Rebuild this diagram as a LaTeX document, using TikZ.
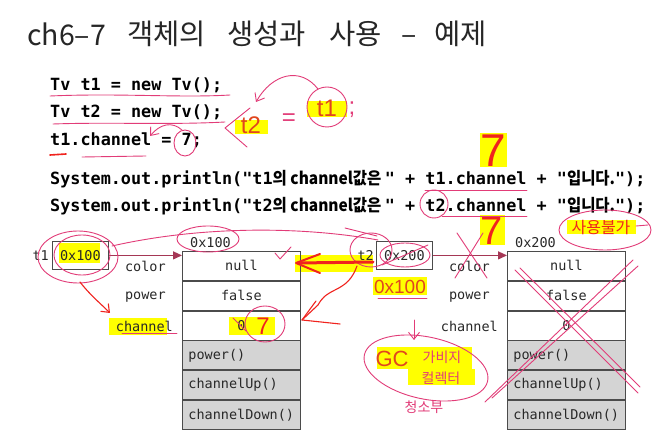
\documentclass[tikz,border=0pt]{standalone}
\usepackage{fontspec}
\usetikzlibrary{calc,arrows.meta}
\newfontfamily\krfont{Noto Sans CJK KR}
\newfontfamily\krcode[FakeStretch=0.92]{Noto Sans CJK KR}
\newfontfamily\cdfont{DejaVu Sans Mono}
\newfontfamily\dmfont{DejaVu Sans Mono}
\newfontfamily\handfont{Liberation Sans}
\definecolor{pinkc}{RGB}{226,60,120}
\definecolor{redc}{RGB}{240,35,30}
\definecolor{hlyc}{RGB}{255,255,0}
\definecolor{arrc}{RGB}{165,55,85}
\definecolor{boxc}{RGB}{75,75,75}
\definecolor{methc}{RGB}{212,212,212}
\definecolor{txtc}{RGB}{40,40,40}
\definecolor{handc}{RGB}{225,70,30}
\newcommand\krb[1]{{\krcode\bfseries #1}}
\begin{document}
\begin{tikzpicture}[x=1pt,y=-1pt,
  titletxt/.style={anchor=base west,inner sep=0pt,font=\krfont\fontsize{28.5}{32}\selectfont,text=black!85},
  codeln/.style={anchor=base west,inner sep=0pt,font=\cdfont\bfseries\fontsize{16.8}{18}\selectfont,text=black},
  cell/.style={draw=boxc,line width=0.8pt,minimum width=118pt,minimum height=29pt,inner sep=0pt,anchor=north west,font=\dmfont\fontsize{13.5}{15}\selectfont,text=txtc},
  methcell/.style={cell,fill=methc,inner xsep=6pt,text width=106pt,align=left},
  refbox/.style={draw=boxc,line width=0.8pt,minimum width=56pt,minimum height=28pt,inner sep=0pt,anchor=north west,font=\dmfont\fontsize{13.5}{15}\selectfont,text=txtc},
  lbl/.style={inner sep=0pt,font=\dmfont\fontsize{13.5}{15}\selectfont,text=txtc},
  refarrow/.style={arrc,line width=1.3pt,-{Triangle[length=9pt,width=8pt]}},
  pinkline/.style={pinkc,line width=0.9pt,line cap=round,line join=round},
  redline/.style={redc,line width=1.1pt,line cap=round,line join=round},
  barb/.style={-{Straight Barb[length=7pt,width=11pt]}},
  handtxt/.style={inner sep=0pt,font=\handfont\fontsize{24}{24}\selectfont,text=handc},
  handkr/.style={inner sep=0pt,font=\krfont\fontsize{14}{14}\selectfont,text=pinkc}
]
\useasboundingbox (0,0) rectangle (665,438);
\fill[white] (0,0) rectangle (665,438);

% ---------- yellow highlights (behind everything) ----------
\fill[hlyc] (59,243) rectangle (100,263);
\fill[hlyc] (109,318) rectangle (167,335);
\fill[hlyc] (229,317) rectangle (275,335);
\fill[hlyc] (295,255) rectangle (373,272);
\fill[hlyc] (373,277) rectangle (427,295);
\fill[hlyc] (235,120) rectangle (268,134);
\fill[hlyc] (307,101) rectangle (347,117);
\fill[hlyc] (480,133) rectangle (507,167);
\fill[hlyc] (480,215) rectangle (505,245);
\fill[hlyc] (567,220) rectangle (636,234);
\fill[hlyc] (377,347) rectangle (472,369);
\fill[hlyc] (408,369) rectangle (475,385);

% ---------- title ----------
\node[titletxt] (title1) at (27,46) {ch6–7};
\node[titletxt] (title2) at (127,45) {객체의};
\node[titletxt] (title3) at (227,45) {생성과};
\node[titletxt] (title4) at (329,45) {사용};
\node[titletxt] (title5) at (401,45) {–};
\node[titletxt] (title6) at (434,45) {예제};

% ---------- code ----------
\node[codeln] (l1) at (50,90.7) {Tv t1 = new Tv();};
\node[codeln] (l2) at (50,118) {Tv t2 = new Tv();};
\node[codeln] (l3) at (50,146) {t1.channel = 7;};
\node[codeln] (l4) at (50,185) {System.out.println("t1\krb{의 channel값은 }" + t1.channel + "\krb{입니다.}");};
\node[codeln] (l5) at (50,211.7) {System.out.println("t2\krb{의 channel값은 }" + t2.channel + "\krb{입니다.}");};

% ---------- object 1 ----------
\node[cell] (o1a) at (182,251) {null};
\node[cell] (o1b) at (o1a.south west) {false};
\node[cell] (o1c) at (o1b.south west) {0};
\node[methcell] (o1d) at (o1c.south west) {power()};
\node[methcell] (o1e) at (o1d.south west) {channelUp()};
\node[methcell] (o1f) at (o1e.south west) {channelDown()};
\node[lbl,anchor=south west] (o1addr) at ($(o1a.north west)+(8,-3)$) {0x100};
\node[lbl] (o1color) at ($(o1a.center)+(-96,1)$) {color};
\node[lbl] (o1power) at ($(o1b.center)+(-96,1)$) {power};
\node[lbl] (o1chan) at ($(o1c.center)+(-97,1)$) {channel};

\node[refbox] (t1box) at (52,241) {0x100};
\node[lbl,anchor=east] (t1lbl) at ($(t1box.west)+(-3,0)$) {t1};
\draw[refarrow] (t1box.east) -- (t1box.east -| o1a.west);

% ---------- object 2 ----------
\node[cell] (o2a) at (507,251) {null};
\node[cell] (o2b) at (o2a.south west) {false};
\node[cell] (o2c) at (o2b.south west) {0};
\node[methcell] (o2d) at (o2c.south west) {power()};
\node[methcell] (o2e) at (o2d.south west) {channelUp()};
\node[methcell] (o2f) at (o2e.south west) {channelDown()};
\node[lbl,anchor=south west] (o2addr) at ($(o2a.north west)+(8,-3)$) {0x200};
\node[lbl] (o2color) at ($(o2a.center)+(-97,1)$) {color};
\node[lbl] (o2power) at ($(o2b.center)+(-97,1)$) {power};
\node[lbl] (o2chan) at ($(o2c.center)+(-97,1)$) {channel};

\node[refbox] (t2box) at (376,241) {0x200};
\node[lbl,anchor=east] (t2lbl) at ($(t2box.west)+(-2,0)$) {t2};
\draw[refarrow] (t2box.east) -- (t2box.east -| o2a.west);

% ---------- handwritten texts ----------
\node[handtxt] (ht2) at (251,125) {t2};
\node[handtxt,text=pinkc] (heq) at (289,120) {=};
\node[handtxt] (ht1) at (327,108) {t1};
\node[handtxt,text=pinkc] (hsemi) at (352,110) {;};
\node[inner sep=0pt,font=\handfont\fontsize{46}{46}\selectfont,text=redc] (seven1) at (493,151) {7};
\node[inner sep=0pt,font=\handfont\fontsize{40}{40}\selectfont,text=redc] (seven2) at (492,231) {7};
\node[inner sep=0pt,font=\handfont\fontsize{24}{24}\selectfont,text=redc] (seven3) at (263,326) {7};
\node[inner sep=0pt,font=\handfont\fontsize{19}{19}\selectfont,text=handc] (h0x100) at (400,287) {0x100};
\node[inner sep=0pt,font=\krfont\fontsize{16}{16}\selectfont,text=redc] (hsayong) at (601,228) {사용불가};
\node[inner sep=0pt,font=\handfont\fontsize{22}{22}\selectfont,text=handc] (hgc) at (392,359) {GC};
\node[handkr] (hgarb) at (442,357) {가비지};
\node[handkr] (hcoll) at (441,378) {컬렉터};
\node[handkr] (hclean) at (424,407) {청소부};

% ---------- pink annotation strokes ----------
\draw[pinkline] (50,96) .. controls (120,93) and (180,98) .. (230,95);
\draw[pinkline] (53,124) .. controls (110,122) and (170,125) .. (225,122);
\draw[redline,line width=1.6pt] (50,155) -- (66,154);
\draw[pinkline] (82,157) -- (146,156);
\draw[pinkline] (185,143) ellipse (11 and 13);
\draw[pinkline,barb] (182,130) .. controls (172,121) and (160,124) .. (150,136);
\draw[pinkline] (250,108) -- (225,128) -- (247,147);
\draw[pinkline] (327,107) ellipse (20 and 20);
\draw[pinkline,barb] (318,89) .. controls (300,66) and (272,74) .. (256,102);
\draw[pinkline] (425,190) -- (527,190);
\draw[pinkline] (442,216) -- (527,216);
\draw[pinkline] (434,204) ellipse (14 and 14);
\draw[pinkline] (605,230) ellipse (46 and 20);
\draw[pinkline] (636,226) -- (648,225);
% around t1 box and 0x100 label
\draw[pinkline] (78,257) ellipse (40 and 26);
\draw[pinkline] (82,255) ellipse (28 and 20);
\draw[pinkline] (112,246) .. controls (200,226) and (300,226) .. (378,240);
\draw[pinkline] (208,239) ellipse (31 and 13);
\draw[pinkline] (275,253) -- (280,259) -- (291,247);
% around t2
\draw[pinkline] (371,250) ellipse (21 and 17);
\draw[pinkline] (345,228) -- (377,236);
\draw[pinkline] (405,255) ellipse (25 and 12);
\draw[pinkline] (382,265) -- (428,245);
\draw[pinkline] (378,298) -- (427,298);
% crosses on object 2
\draw[pinkline] (457,233) -- (487,278);
\draw[pinkline] (483,233) -- (455,278);
\draw[pinkline] (515,270) -- (638,393);
\draw[pinkline] (520,268) -- (640,387);
\draw[pinkline] (633,260) -- (485,402);
\draw[pinkline] (638,266) -- (492,398);
% channel of object 1
\draw[pinkline] (122,333) -- (177,333);
\draw[pinkline] (233,318) -- (246,331);
\draw[pinkline] (265,324) ellipse (20 and 18);
% GC annotation
\draw[pinkline,rotate around={-12:(426,368)}] (426,368) ellipse (63 and 31);
\draw[pinkline,barb] (414,320) -- (414,340);

% ---------- red annotation strokes ----------
\draw[redline,barb] (80,282) .. controls (90,295) and (100,303) .. (110,313);
\draw[redline,line width=3pt] (373,262) -- (298,263);
\draw[redline,line width=2pt] (320,254) -- (296,263) -- (320,273);
\draw[redline] (357,266) .. controls (352,280) and (345,285) .. (335,290)
  .. controls (325,295) and (322,298) .. (318,305) -- (302,320);
\draw[redline] (316,301) -- (302,320) -- (340,324);
\end{tikzpicture}
\end{document}
